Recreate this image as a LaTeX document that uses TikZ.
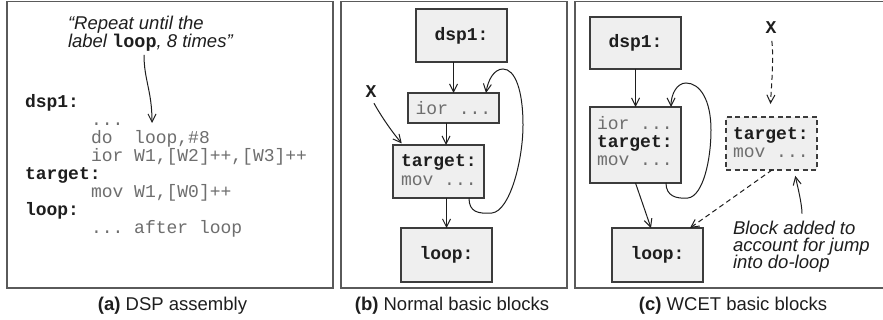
\documentclass[tikz,border=0pt]{standalone}
\usepackage{fontspec}
\setmainfont{Liberation Sans}
\setmonofont{Liberation Mono}
\usetikzlibrary{arrows.meta}

\definecolor{framegray}{HTML}{5A5A5A}
\definecolor{boxfill}{HTML}{EFEFEF}
\definecolor{boxline}{HTML}{3C3C3C}
\definecolor{codegray}{HTML}{6E6E6E}
\definecolor{ink}{HTML}{1E1E1E}

\newcommand{\lbl}[1]{{\bfseries\color{ink}#1}}
\newcommand{\cde}[1]{{\color{codegray}#1}}

\begin{document}
\begin{tikzpicture}[x=1pt,y=-1pt,
  every node/.style={inner sep=0pt, outer sep=0pt},
  panel/.style={draw=framegray, line width=1.3pt},
  block/.style={draw=boxline, fill=boxfill, line width=1.1pt,
    minimum width=91pt},
  code/.style={font=\fontsize{18}{18}\selectfont\ttfamily, anchor=base west},
  ctr/.style={font=\fontsize{18}{18}\selectfont\ttfamily},
  note/.style={font=\fontsize{18.5}{18}\selectfont\itshape, anchor=base west,
    text=ink},
  caption/.style={font=\fontsize{18.5}{18}\selectfont, anchor=base, text=ink},
  arr/.style={draw=ink, line width=1pt,
    -{Straight Barb[length=8pt,width=8pt,line width=1pt]}},
  dashedline/.style={dash pattern=on 5pt off 3.5pt}
]
\useasboundingbox (0,0) rectangle (883,320);
\fill[white] (0,0) rectangle (883,320);

% panel frames
\draw[panel] (7,1.5) rectangle (333,288);
\draw[panel] (341,1.5) rectangle (567,288);
\draw[panel] (575,1.5) rectangle (886,288);

% ---------- (a) DSP assembly ----------
\node[note] (na1) at (68,30) {“Repeat until the};
\node[note] (na2) at (68,48) {label {\upshape\ttfamily\bfseries loop}, 8 times”};
\coordinate (dotsa) at (152,123);
\draw[arr, shorten <=3pt] ([xshift=76pt]na2.south west)
  .. controls +(0,28) and +(0,-32) .. (dotsa);

\node[code] (a1) at (25,108) {\lbl{dsp1:}};
\node[code] (a2) at (91,126) {\cde{...}};
\node[code] (a3) at (91,144) {\cde{do\ \ loop,\#8}};
\node[code] (a4) at (91,162) {\cde{ior W1,[W2]++,[W3]++}};
\node[code] (a5) at (25,180) {\lbl{target:}};
\node[code] (a6) at (91,198) {\cde{mov W1,[W0]++}};
\node[code] (a7) at (25,216) {\lbl{loop:}};
\node[code] (a8) at (91,234) {\cde{... after loop}};

% ---------- (b) Normal basic blocks ----------
\node[block, minimum height=53pt, ctr] (bdsp) at (461.5,35.5) {\lbl{dsp1:}};
\node[block, minimum height=30pt, ctr] (bior) at (453.5,108) {\cde{ior ...}};
\node[block, minimum height=53pt] (btgt) at (438.5,171.5) {};
\node[code] (btgt1) at (401,167) {\lbl{target:}};
\node[code] (btgt2) at (401,186) {\cde{mov ...}};
\node[block, minimum height=54pt, ctr] (bloop) at (446.5,255) {\lbl{loop:}};
\node[ctr, anchor=base] (bx) at (371,98) {\lbl{X}};

\draw[arr] (bior.north |- bdsp.south) -- (bior.north);
\draw[arr] ([xshift=-7.5pt]bior.south) -- ([xshift=-7.5pt]bior.south |- btgt.north);
\draw[arr] (bloop.north |- btgt.south) -- (bloop.north);
\draw[arr, shorten <=6pt, shorten >=2pt] (bx.south)
  .. controls +(9,16) and +(-14,-17) .. ([xshift=10pt]btgt.north west);
\draw[arr] ([xshift=-15pt]btgt.south east)
  .. controls (469,212) and (478,214) .. (492,213)
  .. controls (510,211) and (523,160) .. (523,125)
  .. controls (523,90) and (515,69) .. (503,69)
  .. controls (494,69) and (488,80) .. ([xshift=-13pt]bior.north east);

% ---------- (c) WCET basic blocks ----------
\node[block, minimum height=52pt, ctr] (cdsp) at (635.5,43) {\lbl{dsp1:}};
\node[block, minimum height=76pt] (cbig) at (635.5,145) {};
\node[code] (cbig1) at (597,130) {\cde{ior ...}};
\node[code] (cbig2) at (597,148) {\lbl{target:}};
\node[code] (cbig3) at (597,166) {\cde{mov ...}};
\node[block, minimum height=54pt, ctr] (cloop) at (657.5,255) {\lbl{loop:}};
\node[block, dashedline, minimum height=53pt] (cadd) at (771.5,143.5) {};
\node[code] (cadd1) at (733,140) {\lbl{target:}};
\node[code] (cadd2) at (733,158) {\cde{mov ...}};
\node[ctr, anchor=base] (cx) at (771,34) {\lbl{X}};

\node[note] (blk1) at (733,235) {Block added to};
\node[note] (blk2) at (733,252) {account for jump};
\node[note] (blk3) at (733,269) {into do-loop};

\draw[arr] (cdsp.south) -- (cdsp.south |- cbig.north);
\draw[arr] (cbig.south) -- ([xshift=-6.5pt]cloop.north);
\draw[arr] ([xshift=-15pt]cbig.south east)
  .. controls (666,196) and (676,199) .. (688,198)
  .. controls (703,196) and (711,160) .. (711,130)
  .. controls (711,100) and (700,83) .. (686,83)
  .. controls (677,83) and (671,94) .. ([xshift=-10pt]cbig.north east);
\draw[arr, dashedline, shorten <=7pt, shorten >=13pt] (cx.south)
  .. controls +(3,25) and +(1,-25) .. ([xshift=-1.5pt]cadd.north);
\draw[arr, dashedline] ([xshift=0.5pt]cadd.south) -- ([xshift=-13pt]cloop.north east);
\draw[arr, shorten <=8pt, shorten >=6pt] ([xshift=69pt]blk1.north west)
  .. controls +(0,-18) and +(3,14) .. ([xshift=22.5pt]cadd.south);

% captions
\node[caption] (capa) at (172.5,310) {\textbf{(a)} DSP assembly};
\node[caption] (capb) at (452,310) {\textbf{(b)} Normal basic blocks};
\node[caption] (capc) at (733,310) {\textbf{(c)} WCET basic blocks};
\end{tikzpicture}
\end{document}
